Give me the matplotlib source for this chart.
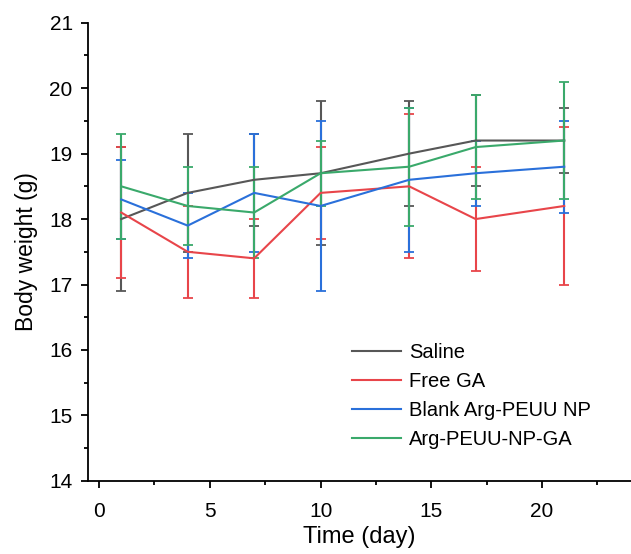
import numpy as np
import matplotlib
matplotlib.use("Agg")
import matplotlib.pyplot as plt
from matplotlib.ticker import MultipleLocator

plt.rcParams['font.family'] = ['Liberation Sans', 'DejaVu Sans']

# ---- data ----
days = [1, 4, 7, 10, 14, 17, 21]

saline = [18.0, 18.4, 18.6, 18.7, 19.0, 19.2, 19.2]
saline_err = [1.1, 0.9, 0.7, 1.1, 0.8, 0.7, 0.5]

free_ga = [18.1, 17.5, 17.4, 18.4, 18.5, 18.0, 18.2]
free_ga_err = [1.0, 0.7, 0.6, 0.7, 1.1, 0.8, 1.2]

blank_np = [18.3, 17.9, 18.4, 18.2, 18.6, 18.7, 18.8]
blank_np_err = [0.6, 0.5, 0.9, 1.3, 1.1, 0.5, 0.7]

np_ga = [18.5, 18.2, 18.1, 18.7, 18.8, 19.1, 19.2]
np_ga_err = [0.8, 0.6, 0.7, 0.5, 0.9, 0.8, 0.9]

labels = ['Saline', 'Free GA', 'Blank Arg-PEUU NP', 'Arg-PEUU-NP-GA']
colors = ['#575757', '#e8454a', '#2a70da', '#3aa96b']

fig = plt.figure(figsize=(6.31, 5.54), dpi=100)
ax = fig.add_axes([0.1395, 0.132, 0.86, 0.827])

series = [(saline, saline_err), (free_ga, free_ga_err),
          (blank_np, blank_np_err), (np_ga, np_ga_err)]
for (vals, errs), lab, c in zip(series, labels, colors):
    ax.errorbar(days, vals, yerr=errs, color=c, lw=1.5, elinewidth=1.5,
                capsize=3.5, capthick=1.3, label=lab)

ax.set_xlim(-0.5, 24)
ax.set_ylim(14, 21)
ax.xaxis.set_major_locator(MultipleLocator(5))
ax.xaxis.set_minor_locator(MultipleLocator(2.5))
ax.yaxis.set_major_locator(MultipleLocator(1))
ax.yaxis.set_minor_locator(MultipleLocator(0.5))

for s in ['top', 'right']:
    ax.spines[s].set_visible(False)
for s in ['left', 'bottom']:
    ax.spines[s].set_linewidth(1.3)

ax.tick_params(which='major', direction='out', length=5, width=1.3, labelsize=15)
ax.tick_params(axis='x', which='major', pad=10)
ax.tick_params(axis='y', which='major', pad=6)
ax.tick_params(which='minor', direction='out', length=3, width=1.3)

ax.set_xlabel('Time (day)', fontsize=17, labelpad=4)
ax.set_ylabel('Body weight (g)', fontsize=16.5, labelpad=8)

# legend shows plain lines only
handles, labs = ax.get_legend_handles_labels()
line_handles = [h[0] for h in handles]
fig.legend(line_handles, labs, loc='upper left', bbox_to_anchor=(0.5575, 0.381),
           frameon=False, fontsize=14.5, handlelength=2.45, labelspacing=0.5,
           handletextpad=0.4, borderpad=0, borderaxespad=0)

fig.savefig('out.png', dpi=100)
